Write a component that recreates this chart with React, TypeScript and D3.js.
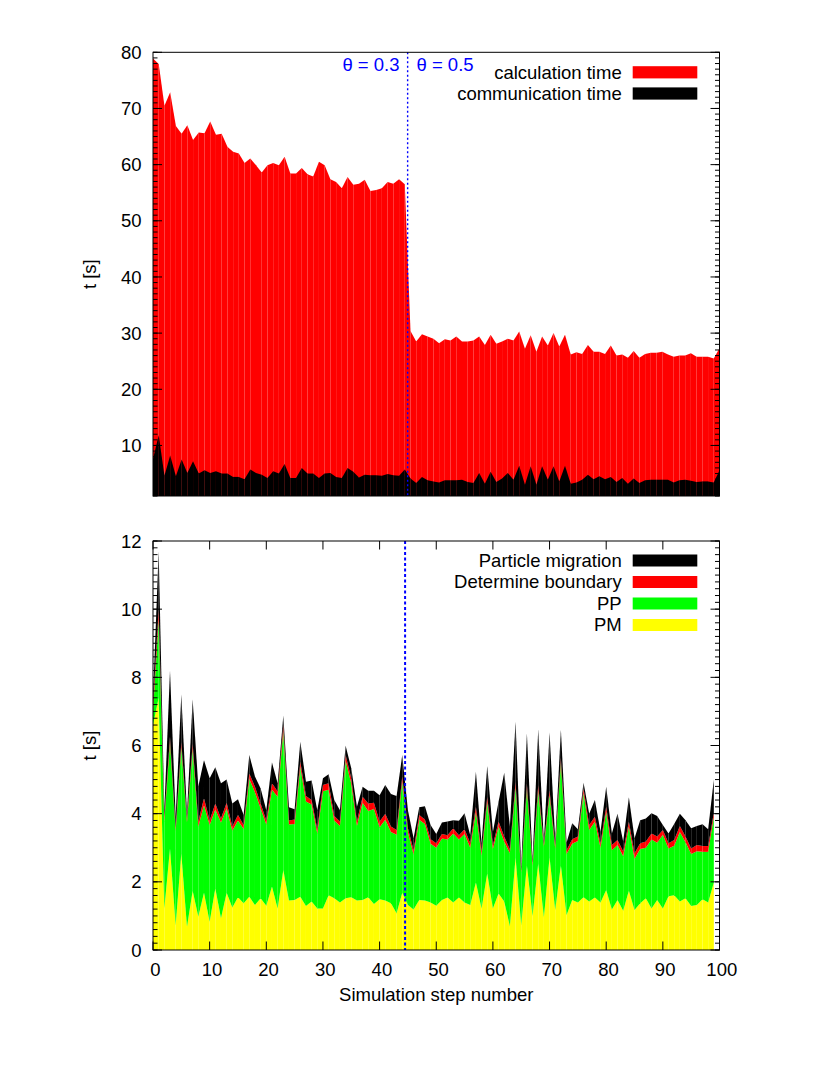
import React from "react";
import * as d3 from "d3";

// ---------- Data ----------
const steps = d3.range(0, 100);

// Top panel: total time (calculation, red top edge) and communication time (black)
const calcTime = [
  78.9, 77.9, 70.5, 72.9, 66.9, 65.5, 67.0, 64.4, 65.7, 65.6,
  67.7, 65.3, 65.5, 63.2, 62.3, 62.0, 60.3, 61.1, 59.9, 58.6,
  59.9, 60.3, 59.9, 61.4, 58.4, 58.4, 59.4, 58.3, 57.9, 60.5,
  59.9, 57.4, 56.9, 55.8, 57.8, 56.4, 56.6, 57.3, 55.3, 55.5,
  55.8, 56.9, 56.6, 57.4, 56.5, 30.4, 28.5, 29.8, 29.4, 29.0,
  28.2, 28.9, 28.7, 29.4, 28.5, 28.5, 28.7, 29.4, 27.9, 29.7,
  28.1, 28.5, 29.0, 28.7, 30.3, 27.2, 29.6, 26.7, 29.4, 27.8,
  30.0, 27.6, 29.7, 26.2, 26.6, 26.3, 27.9, 26.7, 26.7, 26.3,
  27.8, 26.0, 26.2, 25.6, 26.8, 25.6, 26.3, 26.5, 26.5, 26.7,
  26.2, 25.8, 26.0, 26.0, 26.4, 25.8, 25.8, 25.8, 25.5, 27.3,
];
const commTime = [
  7.6, 11.8, 4.6, 8.2, 4.5, 7.5, 5.1, 7.2, 5.0, 5.6,
  5.1, 5.4, 5.0, 5.0, 4.4, 4.4, 4.0, 5.7, 5.1, 4.8,
  4.2, 5.4, 5.0, 6.7, 4.2, 4.2, 6.0, 5.0, 5.0, 4.2,
  5.0, 5.1, 4.4, 4.2, 6.0, 5.3, 4.3, 4.8, 4.7, 4.7,
  4.6, 4.9, 4.7, 4.6, 5.7, 4.1, 3.3, 4.4, 3.8, 3.6,
  3.4, 3.8, 3.8, 3.8, 3.9, 3.5, 3.3, 5.1, 3.2, 5.3,
  3.5, 4.1, 5.1, 3.9, 6.4, 3.0, 6.3, 3.0, 6.3, 3.9,
  6.3, 3.6, 6.4, 3.2, 3.4, 3.9, 4.8, 4.0, 4.5, 4.0,
  4.4, 3.5, 4.2, 3.2, 4.1, 3.3, 3.8, 3.9, 3.9, 3.9,
  3.9, 3.4, 3.8, 3.9, 3.7, 3.5, 3.6, 3.6, 3.4, 5.6,
];

// Bottom panel: cumulative tops of the stacked components
const pmTop = [
  6.6, 7.4, 1.22, 2.98, 0.73, 2.84, 0.68, 1.74, 0.98, 1.68,
  0.83, 1.81, 0.93, 1.68, 1.25, 1.55, 1.37, 1.56, 1.32, 1.52,
  1.3, 1.86, 1.22, 2.35, 1.45, 1.47, 1.56, 1.29, 1.42, 1.22,
  1.22, 1.61, 1.52, 1.39, 1.52, 1.55, 1.45, 1.47, 1.55, 1.35,
  1.49, 1.45, 1.37, 1.08, 1.68, 1.32, 1.19, 1.47, 1.45, 1.39,
  1.3, 1.47, 1.54, 1.39, 1.54, 1.39, 1.32, 1.98, 1.22, 2.25,
  1.22, 1.66, 1.42, 0.7, 2.72, 0.73, 2.49, 1.0, 2.54, 0.96,
  2.72, 1.17, 2.49, 1.03, 1.47, 1.39, 1.55, 1.42, 1.54, 1.39,
  1.76, 1.19, 1.47, 1.15, 1.74, 1.17, 1.37, 1.52, 1.22, 1.47,
  1.22, 1.58, 1.61, 1.42, 1.52, 1.29, 1.32, 1.49, 1.39, 1.98,
];
const ppTop = [
  7.0, 9.7, 3.78, 6.1, 3.5, 5.95, 3.75, 5.9, 3.62, 4.25,
  3.67, 4.12, 3.74, 4.15, 3.5, 3.8, 3.55, 5.02, 4.63, 4.15,
  3.68, 4.7, 4.5, 6.42, 3.68, 3.7, 5.38, 4.36, 4.27, 3.42,
  4.66, 4.7, 3.8, 3.64, 5.56, 4.88, 3.64, 4.32, 4.08, 4.14,
  3.6, 3.82, 3.46, 3.38, 4.95, 3.45, 2.8, 3.82, 3.7, 3.12,
  3.0, 3.27, 3.24, 3.42, 3.24, 3.4, 3.0, 4.05, 2.77, 4.35,
  2.96, 3.62, 3.18, 2.84, 4.78, 2.28, 4.74, 2.48, 4.68, 3.03,
  4.55, 2.98, 5.5, 2.82, 3.12, 3.2, 4.6, 3.52, 3.76, 3.0,
  4.06, 2.93, 3.08, 2.75, 3.62, 2.68, 2.96, 3.0, 3.24, 3.15,
  3.38, 2.98, 3.06, 3.46, 3.16, 2.82, 2.9, 2.88, 2.88, 3.9,
];
const boundaryTop = [
  7.2, 10.0, 3.9, 6.26, 3.6, 6.1, 3.85, 6.06, 3.77, 4.45,
  3.8, 4.3, 3.86, 4.32, 3.62, 3.96, 3.67, 5.18, 4.79, 4.3,
  3.8, 4.89, 4.65, 6.6, 3.8, 3.83, 5.53, 4.52, 4.4, 3.54,
  4.84, 4.89, 3.93, 3.77, 5.72, 5.04, 3.77, 4.5, 4.3, 4.32,
  3.77, 4.0, 3.62, 3.52, 5.1, 3.57, 2.93, 3.96, 3.83, 3.25,
  3.13, 3.4, 3.37, 3.57, 3.37, 3.54, 3.13, 4.21, 2.89, 4.5,
  3.08, 3.77, 3.33, 2.95, 4.94, 2.35, 4.89, 2.56, 4.84, 3.11,
  4.69, 3.08, 5.65, 2.93, 3.25, 3.33, 4.74, 3.67, 3.91, 3.13,
  4.21, 3.08, 3.23, 2.89, 3.77, 2.84, 3.13, 3.18, 3.42, 3.33,
  3.52, 3.13, 3.23, 3.64, 3.33, 2.98, 3.08, 3.05, 3.05, 4.03,
];
const migrationTop = [
  7.4, 11.7, 4.1, 8.2, 3.9, 7.5, 4.0, 7.35, 4.8, 5.57,
  5.04, 5.36, 4.89, 5.0, 4.3, 4.42, 3.96, 5.72, 5.09, 4.74,
  4.1, 5.5, 4.89, 6.87, 4.19, 4.13, 6.11, 4.94, 4.97, 4.1,
  5.04, 5.16, 4.4, 4.1, 5.99, 5.33, 4.2, 4.79, 4.67, 4.67,
  4.54, 4.84, 4.58, 4.52, 5.72, 4.1, 3.28, 4.19, 4.22, 3.67,
  3.4, 3.74, 3.77, 3.81, 3.79, 4.01, 3.37, 5.23, 3.13, 5.4,
  3.47, 4.35, 5.2, 3.62, 6.7, 2.44, 6.36, 2.64, 6.47, 3.18,
  6.38, 3.23, 6.47, 3.15, 3.72, 3.54, 4.91, 4.0, 4.4, 3.47,
  4.79, 3.42, 4.0, 3.18, 4.48, 3.28, 3.81, 3.86, 4.01, 3.93,
  3.67, 3.42, 3.7, 4.0, 3.81, 3.57, 3.64, 3.69, 3.54, 5.0,
];

const topLegend = ["calculation time", "communication time"];
const bottomLegend = ["Particle migration", "Determine boundary", "PP", "PM"];
const topYTicks = [10, 20, 30, 40, 50, 60, 70, 80];
const bottomYTicks = [0, 2, 4, 6, 8, 10, 12];
const bottomXTicks = [0, 10, 20, 30, 40, 50, 60, 70, 80, 90, 100];
const thetaSwitch = 44.5;

const FONT = "'Liberation Sans', Arial, Helvetica, sans-serif";
const FS = 18.5;

// ---------- Layout ----------
const PL = 153, PR = 719.5;
const T1 = 52.3, B1 = 496;
const T2 = 541, B2 = 950;

const x1 = d3.scaleLinear().domain([0, 99]).range([PL, PR]);
const y1 = d3.scaleLinear().domain([1, 80]).range([B1, T1]);
const x2 = d3.scaleLinear().domain([0, 100]).range([PL, PR]);
const y2 = d3.scaleLinear().domain([0, 12]).range([B2, T2]);

type Band = { lo: number[] | null; hi: number[]; color: string };

function Segments({ band, xs, ys, base }: { band: Band; xs: any; ys: any; base: number }) {
  const area = d3
    .area<number>()
    .x((i) => xs(steps[i]))
    .y0((i) => (band.lo ? ys(band.lo[i]) : ys(base)))
    .y1((i) => ys(band.hi[i]));
  const segs = [];
  for (let i = 0; i < steps.length - 1; i++) {
    segs.push(<path key={i} d={area([i, i + 1]) || ""} fill={band.color} />);
  }
  return <g>{segs}</g>;
}

function YTicks({ ys, majors, minorStep, domain, labels }: any) {
  const els: any[] = [];
  const minors = d3.range(domain[0], domain[1] + 1e-9, minorStep);
  minors.forEach((v: number, k: number) => {
    const y = ys(v);
    els.push(<line key={"ml" + k} x1={PL} x2={PL + 4.5} y1={y} y2={y} stroke="#000" strokeWidth={1} />);
    els.push(<line key={"mr" + k} x1={PR} x2={PR - 4.5} y1={y} y2={y} stroke="#000" strokeWidth={1} />);
  });
  majors.forEach((v: number, k: number) => {
    const y = ys(v);
    els.push(<line key={"Ml" + k} x1={PL} x2={PL + 9} y1={y} y2={y} stroke="#000" strokeWidth={1} />);
    els.push(<line key={"Mr" + k} x1={PR} x2={PR - 9} y1={y} y2={y} stroke="#000" strokeWidth={1} />);
    if (labels)
      els.push(
        <text key={"t" + k} x={141.5} y={y} dy="0.36em" textAnchor="end" fontSize={FS} fontFamily={FONT}>
          {v}
        </text>
      );
  });
  return <g>{els}</g>;
}

export default function App() {
  const legendTextX = 621.7;
  const swX = 632.7, swW = 64.6;
  return (
    <svg width={830} height={1075} style={{ position: "absolute", left: 0, top: 0, background: "#fff" }}>
      <rect x={0} y={0} width={830} height={1075} fill="#fff" />

      {/* ---------- Top panel ---------- */}
      <Segments band={{ lo: null, hi: calcTime, color: "#ff0000" }} xs={x1} ys={y1} base={1} />
      <Segments band={{ lo: null, hi: commTime, color: "#000000" }} xs={x1} ys={y1} base={1} />
      <line
        x1={x1(thetaSwitch)} x2={x1(thetaSwitch)} y1={T1} y2={B1}
        stroke="#0000ff" strokeWidth={1.4} strokeDasharray="2,2.5"
      />
      <YTicks ys={y1} majors={topYTicks} minorStep={1} domain={[1, 80]} labels />
      <rect x={PL} y={T1} width={PR - PL} height={B1 - T1} fill="none" stroke="#000" strokeWidth={1} />
      <text x={399.5} y={71} textAnchor="end" fontSize={FS} fontFamily={FONT} fill="#0000ff">θ = 0.3</text>
      <text x={416.5} y={71} textAnchor="start" fontSize={FS} fontFamily={FONT} fill="#0000ff">θ = 0.5</text>
      {topLegend.map((t, k) => (
        <g key={t}>
          <text x={legendTextX} y={79 + k * 21.2} textAnchor="end" fontSize={FS} fontFamily={FONT}>{t}</text>
          <rect x={swX} y={66.2 + k * 21.2} width={swW} height={12.2} fill={k === 0 ? "#ff0000" : "#000000"} />
        </g>
      ))}
      <text
        transform={`translate(96,${(T1 + B1) / 2}) rotate(-90)`}
        textAnchor="middle" fontSize={FS} fontFamily={FONT}
      >t [s]</text>

      {/* ---------- Bottom panel ---------- */}
      <Segments band={{ lo: null, hi: pmTop, color: "#ffff00" }} xs={x2} ys={y2} base={0} />
      <Segments band={{ lo: pmTop, hi: ppTop, color: "#00ff00" }} xs={x2} ys={y2} base={0} />
      <Segments band={{ lo: ppTop, hi: boundaryTop, color: "#ff0000" }} xs={x2} ys={y2} base={0} />
      <Segments band={{ lo: boundaryTop, hi: migrationTop, color: "#000000" }} xs={x2} ys={y2} base={0} />
      <line
        x1={x2(thetaSwitch)} x2={x2(thetaSwitch)} y1={T2} y2={B2}
        stroke="#0000ff" strokeWidth={2} strokeDasharray="3,2.5"
      />
      <YTicks ys={y2} majors={bottomYTicks} minorStep={0.2} domain={[0, 12]} labels />
      {bottomXTicks.map((v) => (
        <g key={"xt" + v}>
          <line x1={x2(v)} x2={x2(v)} y1={B2} y2={B2 - 8.5} stroke="#000" />
          <line x1={x2(v)} x2={x2(v)} y1={T2} y2={T2 + 8.5} stroke="#000" />
          <text x={x2(v) + 2.3} y={976} textAnchor="middle" fontSize={FS} fontFamily={FONT}>{v}</text>
        </g>
      ))}
      <rect x={PL} y={T2} width={PR - PL} height={B2 - T2} fill="none" stroke="#000" strokeWidth={1} />
      {bottomLegend.map((t, k) => (
        <g key={t}>
          <text x={legendTextX} y={566.5 + k * 21.5} textAnchor="end" fontSize={FS} fontFamily={FONT}>{t}</text>
          <rect
            x={swX} y={554.5 + k * 21.5} width={swW} height={12}
            fill={["#000000", "#ff0000", "#00ff00", "#ffff00"][k]}
          />
        </g>
      ))}
      <text
        transform={`translate(96,${(T2 + B2) / 2}) rotate(-90)`}
        textAnchor="middle" fontSize={FS} fontFamily={FONT}
      >t [s]</text>
      <text x={(PL + PR) / 2} y={1001} textAnchor="middle" fontSize={FS} fontFamily={FONT}>
        Simulation step number
      </text>
    </svg>
  );
}
